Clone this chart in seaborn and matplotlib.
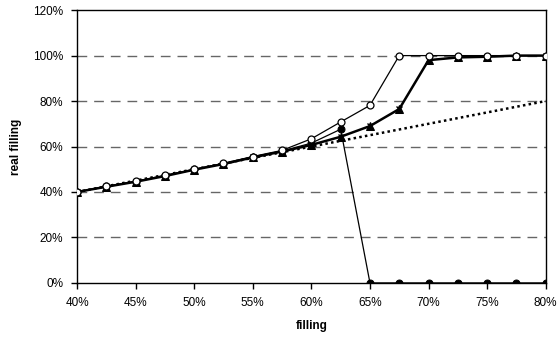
import numpy as np
import pandas as pd
import matplotlib.pyplot as plt
import seaborn as sns
from matplotlib.ticker import PercentFormatter

# filling levels (x) in percent
filling = [40, 42.5, 45, 47.5, 50, 52.5, 55, 57.5, 60, 62.5, 65, 67.5, 70, 72.5, 75, 77.5, 80]

# real filling per series
ideal = [40, 42.5, 45, 47.5, 50, 52.5, 55, 57.5, 60, 62.5, 65, 67.5, 70, 72.5, 75, 77.5, 80]
open_circ = [40, 42.5, 44.7, 47.3, 50, 52.6, 55.6, 58.3, 63.4, 70.8, 78.1, 100, 100, 100, 100, 100, 100]
filled_circ = [40, 42.5, 44.6, 47.2, 49.9, 52.5, 55.4, 58.0, 61.5, 67.6, 0, 0, 0, 0, 0, 0, 0]
triangle = [40, 42.3, 44.5, 47.0, 49.8, 52.3, 55.2, 57.8, 60.7, 64.3, 69.0, 76.5, 98.0, 99.2, 99.5, 100, 100]

sns.set_style("white")
plt.rcParams['font.family'] = ['Liberation Sans', 'DejaVu Sans']

fig = plt.figure(figsize=(5.58, 3.38), dpi=100)
ax = fig.add_axes([0.138, 0.163, 0.840, 0.807])

# horizontal gridlines
for g in [20, 40, 60, 80, 100]:
    ax.axhline(g, color='#666666', lw=1, ls=(0, (7, 5)), zorder=0)

sns.lineplot(x=filling, y=ideal, ax=ax, color='black', lw=1.8,
             linestyle=(0, (1.0, 1.3)), zorder=2)
sns.lineplot(x=filling, y=triangle, ax=ax, color='black', lw=1.8,
             marker='^', markersize=6, markerfacecolor='black',
             markeredgecolor='black', zorder=3)
sns.lineplot(x=filling, y=triangle, ax=ax, color='black', lw=0,
             marker='x', markersize=5, markeredgewidth=1,
             markeredgecolor='black', zorder=3)
sns.lineplot(x=filling, y=filled_circ, ax=ax, color='black', lw=0.9,
             marker='o', markersize=5, markerfacecolor='black',
             markeredgecolor='black', zorder=4)
sns.lineplot(x=filling, y=open_circ, ax=ax, color='black', lw=0.9,
             marker='o', markersize=5, markerfacecolor='white',
             markeredgecolor='black', markeredgewidth=0.9, zorder=5)

ax.set_xlim(40, 80)
ax.set_ylim(0, 120)
ax.set_xticks(np.arange(40, 80.1, 5))
ax.set_yticks(np.arange(0, 120.1, 20))
ax.xaxis.set_major_formatter(PercentFormatter(decimals=0))
ax.yaxis.set_major_formatter(PercentFormatter(decimals=0))
ax.tick_params(axis='both', direction='out', length=4, width=1, labelsize=8.5,
               bottom=True, left=True, pad=6, colors='black')

for s in ax.spines.values():
    s.set_color('black')
    s.set_linewidth(1)
    s.set_visible(True)

ax.set_xlabel('filling', fontsize=8.5, fontweight='bold', labelpad=8, color='black')
ax.set_ylabel('real filling', fontsize=8.5, fontweight='bold', labelpad=8, color='black')

fig.savefig('out.png', dpi=100)
